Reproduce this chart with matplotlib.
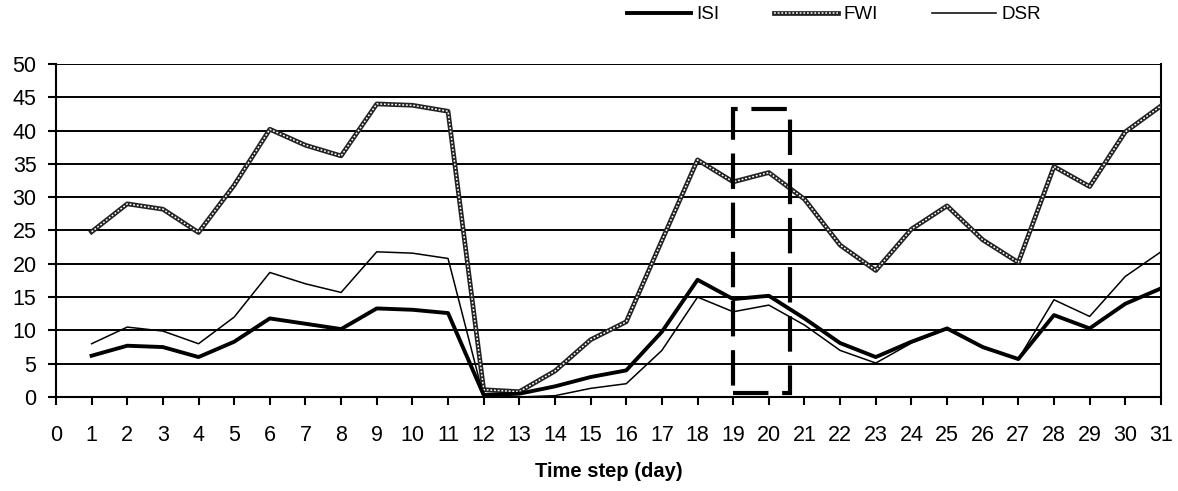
import matplotlib
matplotlib.use("Agg")
import matplotlib.pyplot as plt
from matplotlib.patches import Rectangle

plt.rcParams['font.family'] = ['Liberation Sans', 'DejaVu Sans']

days = list(range(1, 32))
isi = [6.2, 7.7, 7.5, 6.0, 8.3, 11.8, 11.0, 10.2, 13.3, 13.1, 12.6,
       0.3, 0.5, 1.6, 3.0, 4.0, 9.8, 17.6, 14.7, 15.2, 11.8, 8.1,
       6.0, 8.3, 10.3, 7.5, 5.7, 12.3, 10.3, 14.0, 16.3]
fwi = [24.8, 29.0, 28.2, 24.7, 31.8, 40.2, 37.8, 36.2, 44.0, 43.8, 42.9,
       1.1, 0.8, 3.9, 8.6, 11.3, 23.5, 35.6, 32.3, 33.7, 29.7, 22.8,
       19.0, 25.2, 28.7, 23.6, 20.2, 34.6, 31.6, 39.8, 43.7]
dsr = [8.0, 10.5, 9.9, 8.0, 12.0, 18.7, 17.0, 15.7, 21.8, 21.6, 20.8,
       0.0, 0.0, 0.2, 1.3, 2.0, 7.0, 15.0, 12.8, 13.8, 10.8, 7.0,
       5.1, 8.1, 10.2, 7.4, 5.7, 14.6, 12.1, 18.1, 21.8]

box_x0, box_x1 = 19.0, 20.6
box_y0, box_y1 = 0.6, 43.2

fig = plt.figure(figsize=(11.78, 4.91), dpi=100)
ax = fig.add_axes([0.0475, 0.1914, 0.938, 0.6783])

ax.set_xlim(0, 31)
ax.set_ylim(0, 50)
ax.set_yticks(range(0, 51, 5))
ax.set_xticks(range(0, 32))
ax.yaxis.grid(True, color='black', linewidth=1.4)
ax.set_axisbelow(True)
for s in ['left', 'bottom', 'right']:
    ax.spines[s].set_linewidth(1.5)
ax.spines['top'].set_visible(False)

ax.tick_params(axis='both', direction='out', length=6, width=1.5, labelsize=15.5)
ax.tick_params(axis='x', pad=14)
ax.tick_params(axis='y', pad=8)

l_isi, = ax.plot(days, isi, color='black', linewidth=2.8, zorder=4)
l_fwi1, = ax.plot(days, fwi, color='#222222', linewidth=3.4, zorder=3)
l_fwi2, = ax.plot(days, fwi, color='white', linewidth=1.1, linestyle=(0, (1.2, 1.2)), zorder=3.5)
l_dsr, = ax.plot(days, dsr, color='black', linewidth=1.1, zorder=5)

rect = Rectangle((box_x0, box_y0), box_x1 - box_x0, box_y1 - box_y0, fill=False,
                 edgecolor='black', linewidth=3.0, linestyle=(0, (8.5, 3.3)), zorder=6)
ax.add_patch(rect)

ax.set_xlabel('Time step (day)', fontsize=14.5, fontweight='bold', labelpad=12)

fig.legend([l_isi, (l_fwi1, l_fwi2), l_dsr], ['ISI', 'FWI', 'DSR'],
           loc='center', bbox_to_anchor=(0.708, 0.970), ncol=3, frameon=False,
           fontsize=13.5, handlelength=3.4, handletextpad=0.3, columnspacing=2.9,
           borderpad=0)

fig.savefig('out.png', dpi=100)
